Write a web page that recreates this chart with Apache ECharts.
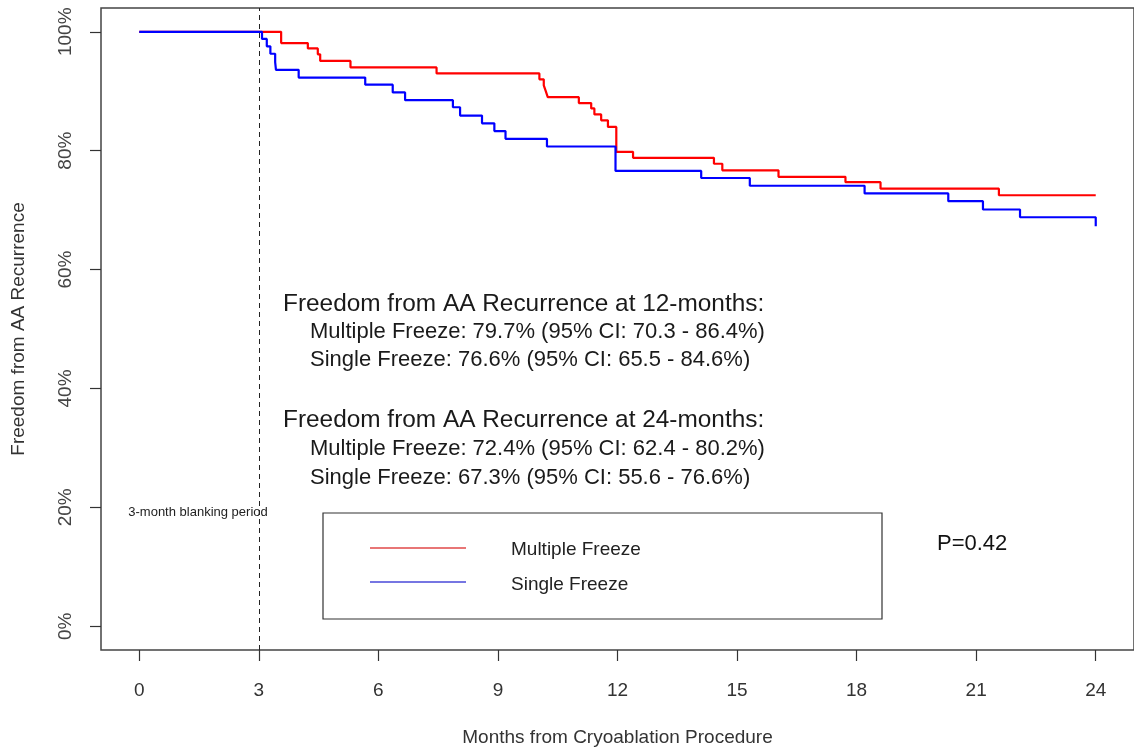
<!DOCTYPE html>
<html><head><meta charset="utf-8">
<script src="https://cdn.jsdelivr.net/npm/echarts@6/dist/echarts.min.js"></script>
<style>html,body{margin:0;padding:0;background:#fff}#c{width:1134px;height:752px}</style>
</head><body><div id="c"></div>
<script>
// ---- data ----
const xTicks = [0, 3, 6, 9, 12, 15, 18, 21, 24];
const yTicks = [0, 20, 40, 60, 80, 100];
const seriesNames = ['Multiple Freeze', 'Single Freeze'];
const multipleTimes = [0, 3.56, 4.23, 4.48, 4.54, 5.3, 7.46, 10.04, 10.15, 10.2, 10.25, 11.03, 11.34, 11.42, 11.59, 11.76, 11.97, 12.39, 14.42, 14.63, 16.04, 17.72, 18.6, 21.57, 24];
const multipleSurv  = [100, 98.1, 97.2, 96.2, 95.1, 94.0, 93.0, 92.0, 91.0, 90.0, 89.0, 88.0, 87.1, 86.1, 85.1, 84.0, 79.8, 78.8, 77.8, 76.7, 75.6, 74.7, 73.6, 72.5, 72.4];
const singleTimes = [0, 3.08, 3.2, 3.29, 3.41, 3.43, 4.0, 5.67, 6.36, 6.67, 7.87, 8.05, 8.6, 8.91, 9.19, 10.23, 11.95, 14.1, 15.32, 18.2, 20.3, 21.17, 22.1, 24];
const singleSurv  = [100, 98.8, 97.55, 96.3, 94.9, 93.6, 92.3, 91.1, 89.8, 88.5, 87.3, 85.9, 84.6, 83.3, 82.0, 80.7, 76.6, 75.4, 74.1, 72.8, 71.5, 70.1, 68.8, 67.3];
const blankingMonth = 3;
const blankingLabel = '3-month blanking period';
const heading12 = 'Freedom from AA Recurrence at 12-months:';
const lines12 = ['Multiple Freeze: 79.7% (95% CI: 70.3 - 86.4%)', 'Single Freeze: 76.6% (95% CI: 65.5 - 84.6%)'];
const heading24 = 'Freedom from AA Recurrence at 24-months:';
const lines24 = ['Multiple Freeze: 72.4% (95% CI: 62.4 - 80.2%)', 'Single Freeze: 67.3% (95% CI: 55.6 - 76.6%)'];
const pValueText = 'P=0.42';
const xTitle = 'Months from Cryoablation Procedure';
const yTitle = 'Freedom from AA Recurrence';

// ---- chart ----
const FF = '"Liberation Sans", Arial, sans-serif';
const zip = (a, b) => a.map((t, i) => [t, b[i]]);
const chart = echarts.init(document.getElementById('c'), null, {renderer: 'canvas'});

function txt(text, x, y, size, color, align) {
  return {type: 'text', x: x, y: y, silent: true,
    style: {text: text, fill: color || '#1a1a1a', font: size + 'px ' + FF,
      textAlign: align || 'left', textVerticalAlign: 'middle'}};
}

chart.setOption({
  animation: false,
  backgroundColor: '#fff',
  grid: {left: 101, top: 8, width: 1033, height: 648, show: true,
    borderColor: '#444', borderWidth: 1.5, backgroundColor: 'transparent'},
  xAxis: {
    type: 'value', min: -0.96, max: 24.96,
    axisLine: {show: false, onZero: false},
    axisTick: {show: true, length: 11, customValues: xTicks, lineStyle: {color: '#333', width: 1.2}},
    axisLabel: {customValues: xTicks, margin: 31, fontSize: 19, color: '#333', fontFamily: FF},
    splitLine: {show: false},
    name: xTitle, nameLocation: 'middle', nameGap: 78,
    nameTextStyle: {fontSize: 19, color: '#333', fontFamily: FF}
  },
  yAxis: {
    type: 'value', min: -4, max: 104,
    axisLine: {show: false, onZero: false},
    axisTick: {show: true, length: 11, customValues: yTicks, lineStyle: {color: '#333', width: 1.2}},
    axisLabel: {customValues: yTicks, formatter: '{value}%', rotate: 90, margin: 26,
      fontSize: 19, color: '#444', fontFamily: FF},
    splitLine: {show: false},
    name: yTitle, nameLocation: 'middle', nameGap: 73, nameRotate: 90,
    nameTextStyle: {fontSize: 19, color: '#333', fontFamily: FF}
  },
  series: [
    {name: seriesNames[0], type: 'line', step: 'end', data: zip(multipleTimes, multipleSurv),
      symbol: 'none', z: 2, lineStyle: {color: '#ff0000', width: 2.2}, itemStyle: {color: '#ff0000'},
      markLine: {silent: true, symbol: ['none', 'none'], label: {show: false},
        lineStyle: {type: [5, 4], color: '#222', width: 1}, data: [{xAxis: blankingMonth}]}},
    {name: seriesNames[1], type: 'line', step: 'end', data: zip(singleTimes, singleSurv),
      symbol: 'none', z: 3, lineStyle: {color: '#0000ff', width: 2.2}, itemStyle: {color: '#0000ff'}}
  ],
  graphic: [
    txt(blankingLabel, 198, 512, 13, '#222', 'center'),
    txt(heading12, 283, 304, 24.4),
    txt(lines12[0], 310, 332, 22),
    txt(lines12[1], 310, 360, 22),
    txt(heading24, 283, 420, 24.4),
    txt(lines24[0], 310, 449, 22),
    txt(lines24[1], 310, 478, 22),
    {type: 'rect', shape: {x: 323, y: 513, width: 559, height: 106}, silent: true,
      style: {fill: 'none', stroke: '#333', lineWidth: 1.2}},
    {type: 'line', shape: {x1: 370, y1: 548, x2: 466, y2: 548}, silent: true,
      style: {stroke: '#e04848', lineWidth: 1.6}},
    {type: 'line', shape: {x1: 370, y1: 582, x2: 466, y2: 582}, silent: true,
      style: {stroke: '#4848d8', lineWidth: 1.6}},
    txt(seriesNames[0], 511, 550, 19, '#222'),
    txt(seriesNames[1], 511, 585, 19, '#222'),
    txt(pValueText, 937, 544, 22, '#111')
  ]
});
</script></body></html>
